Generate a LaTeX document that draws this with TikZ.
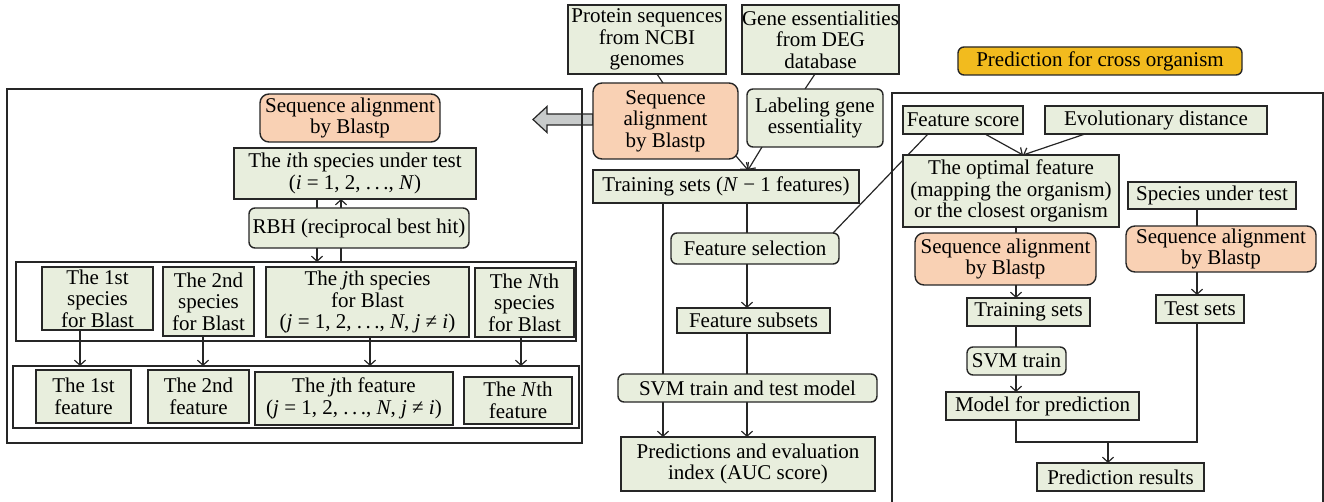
\documentclass[tikz,border=0pt]{standalone}
\usepackage{fontspec}
\setmainfont{Liberation Serif}
\usetikzlibrary{arrows.meta,calc}
\pgfdeclarelayer{bg}
\pgfsetlayers{bg,main}
\definecolor{edge}{RGB}{38,38,38}
\definecolor{boxgreen}{RGB}{232,238,221}
\definecolor{boxorange}{RGB}{249,209,180}
\definecolor{titleyellow}{RGB}{242,187,30}
\definecolor{arrowgray}{RGB}{200,203,203}
\newcommand{\vi}[1]{\textit{#1}}
\newcommand{\dts}{.\,.\,.}
\tikzset{
  base/.style={draw=edge, line width=1.4pt, inner sep=0pt, outer sep=0pt, align=center,
    font=\fontsize{21}{21.5}\selectfont},
  sz/.style 2 args={minimum width=#1pt, minimum height=#2pt},
  gbox/.style={base, fill=boxgreen},
  gro/.style={gbox, rounded corners=6pt},
  obox/.style={base, fill=boxorange, rounded corners=9pt},
  ybox/.style={base, fill=titleyellow, rounded corners=6pt},
  frame/.style={draw=edge, line width=1.6pt},
  link/.style={draw=edge, line width=1.2pt},
  arr/.style={link, -{Straight Barb[length=5pt,width=11pt,line width=1.2pt]}},
  garrow/.style={draw=edge, line width=1.2pt, fill=arrowgray, line join=miter},
}
\begin{document}
\begin{tikzpicture}[x=1pt,y=-1pt]
\useasboundingbox (0,0) rectangle (1324,502);
\begin{pgfonlayer}{bg}
  \fill[white] (0,0) rectangle (1324,502);
\end{pgfonlayer}

% frames
\draw[frame] (7,89) rectangle (582,443);
\draw[frame] (16,262) rectangle (576,341);
\draw[frame] (13,366) rectangle (579,428);
\draw[frame] (892,93) rectangle (1323,530);
\coordinate (in1top) at (296,262);
\coordinate (in2top) at (296,366);

% left panel: homology mapping
\node[obox, sz={180}{48}] (laln) at (350,118) {Sequence alignment\\by Blastp};
\node[gbox, sz={242}{51}] (ith) at (355,173.5) {The \vi{i}th species under test\\(\vi{i} = 1, 2, \dts, \vi{N})};
\node[gro, sz={220}{40}] (rbh) at (359,228) {RBH (reciprocal best hit)};
\node[gbox, sz={111}{63}] (sp1) at (97.5,298.5) {The 1st\\species\\for Blast};
\node[gbox, sz={91}{69}] (sp2) at (208.5,301.5) {The 2nd\\species\\for Blast};
\node[gbox, sz={203}{70}] (spj) at (367.5,302) {The \vi{j}th species\\for Blast\\(\vi{j} = 1, 2, \dts, \vi{N}, \vi{j} ≠ \vi{i})};
\node[gbox, sz={99}{69}] (spN) at (524.5,302.5) {The \vi{N}th\\species\\for Blast};
\node[gbox, sz={95}{53}] (f1) at (83.5,396.5) {The 1st\\feature};
\node[gbox, sz={101}{53}] (f2) at (198.5,396.5) {The 2nd\\feature};
\node[gbox, sz={198}{53}] (fj) at (354,398.5) {The \vi{j}th feature\\(\vi{j} = 1, 2, \dts, \vi{N}, \vi{j} ≠ \vi{i})};
\node[gbox, sz={108}{47}] (fN) at (518,400.5) {The \vi{N}th\\feature};

% middle column: training pipeline
\node[gbox, sz={158}{69}] (prot) at (647,39.5) {Protein sequences\\from NCBI\\genomes};
\node[gbox, sz={155}{69}] (gene) at (820.5,39.5) {Gene essentialities\\from DEG\\database};
\node[obox, sz={145}{76}] (morange) at (665.5,121) {Sequence\\alignment\\by Blastp};
\node[gro, sz={136}{58}] (label) at (815,118) {Labeling gene\\essentiality};
\node[gbox, sz={266}{33}] (train) at (726,186.5) {Training sets (\vi{N} − 1 features)};
\node[gro, sz={168}{31}] (fsel) at (755,248.5) {Feature selection};
\node[gbox, sz={153}{25}] (fsub) at (753.5,320.5) {Feature subsets};
\node[gro, sz={259}{28}] (svm) at (747.5,388) {SVM train and test model};
\node[gbox, sz={254}{54}] (pred) at (748,464) {Predictions and evaluation\\index (AUC score)};

% right panel: cross-organism prediction
\node[ybox, sz={284}{28}] (title) at (1100,61) {Prediction for cross organism};
\node[gbox, sz={120}{28}] (fscore) at (963,120) {Feature score};
\node[gbox, sz={222}{28}] (evo) at (1156,120) {Evolutionary distance};
\node[gbox, sz={216}{72}] (opt) at (1011,191) {The optimal feature\\(mapping the organism)\\or the closest organism};
\node[gbox, sz={168}{27}] (spt) at (1212,195.5) {Species under test};
\node[obox, sz={181}{52}] (ro1) at (1005.5,259) {Sequence alignment\\by Blastp};
\node[obox, sz={190}{46}] (ro2) at (1221,249) {Sequence alignment\\by Blastp};
\node[gbox, sz={123}{28}] (rtrain) at (1028.5,312) {Training sets};
\node[gro, sz={99}{28}] (rsvm) at (1016.5,361) {SVM train};
\node[gbox, sz={193}{28}] (model) at (1042.5,406) {Model for prediction};
\node[gbox, sz={88}{28}] (tests) at (1200,309) {Test sets};
\node[gbox, sz={167}{28}] (presult) at (1120.5,477) {Prediction results};

% guide columns for vertical connectors
\coordinate (xa) at (317,0);
\coordinate (xb) at (341,0);
\coordinate (x1) at (80,0);
\coordinate (x2) at (203,0);
\coordinate (x3) at (370,0);
\coordinate (x4) at (521,0);
\coordinate (xc) at (663,0);
\coordinate (xd) at (747,0);
\coordinate (xe) at (1016,0);
\coordinate (xf) at (1197,0);
\coordinate (jl) at (1016,442);
\coordinate (jr) at (1197,442);
\coordinate (join) at (1108,442);
\coordinate (gtip) at (533,119.5);

\begin{pgfonlayer}{bg}
  % wide gray arrow into the left panel
  \draw[garrow] (gtip) -- ++(14,-13) -- ++(0,7.5) -- (morange.west |- 0,114) -- (morange.west |- 0,125)
    -- ++(-46,0) -- ++(0,7.5) -- cycle;

  % left panel
  \draw[link] (ith.south -| xa) -- (rbh.north -| xa);
  \draw[arr] (rbh.north -| xb) -- (ith.south -| xb);
  \draw[arr] (rbh.south -| xa) -- (in1top -| xa);
  \draw[link] (rbh.south -| xb) -- (in1top -| xb);
  \draw[arr] (sp1.south -| x1) -- (in2top -| x1);
  \draw[arr] (sp2.south -| x2) -- (in2top -| x2);
  \draw[arr] (spj.south -| x3) -- (in2top -| x3);
  \draw[arr] (spN.south -| x4) -- (in2top -| x4);

  % middle column
  \draw[link] ([xshift=10pt]prot.south) -- ([xshift=-2.5pt]morange.north);
  \draw[link] ([xshift=-5.5pt]gene.south) -- ([xshift=-10pt]label.north);
  \draw[arr] ([shift={(-2pt,3pt)}]morange.south east) -- ([xshift=22pt]train.north);
  \draw[arr] ([xshift=-53pt]label.south) -- ([xshift=22pt]train.north);
  \draw[arr] (train.south -| xc) -- (pred.north -| xc);
  \draw[link] (train.south -| xd) -- (fsel.north -| xd);
  \draw[arr] (fsel.south -| xd) -- (fsub.north -| xd);
  \draw[link] (fsub.south -| xd) -- (svm.north -| xd);
  \draw[arr] (svm.south -| xd) -- (pred.north -| xd);
  \draw[link] ([xshift=-35pt]fscore.south) -- ([xshift=-6pt]fsel.north east);

  % right panel
  \draw[arr] ([xshift=22pt]fscore.south) -- ([xshift=12pt]opt.north);
  \draw[arr] ([xshift=-71pt]evo.south) -- ([xshift=12pt]opt.north);
  \draw[link] (opt.south -| xe) -- (ro1.north -| xe);
  \draw[arr] (ro1.south -| xe) -- (rtrain.north -| xe);
  \draw[link] (rtrain.south -| xe) -- (rsvm.north -| xe);
  \draw[arr] (rsvm.south -| xe) -- (model.north -| xe);
  \draw[link] (spt.south -| xf) -- (ro2.north -| xf);
  \draw[arr] (ro2.south -| xf) -- (tests.north -| xf);
  \draw[link] (model.south -| xe) -- (jl) -- (jr) -- (tests.south -| xf);
  \draw[arr] (join) -- (presult.north -| join);
\end{pgfonlayer}
\end{tikzpicture}
\end{document}
